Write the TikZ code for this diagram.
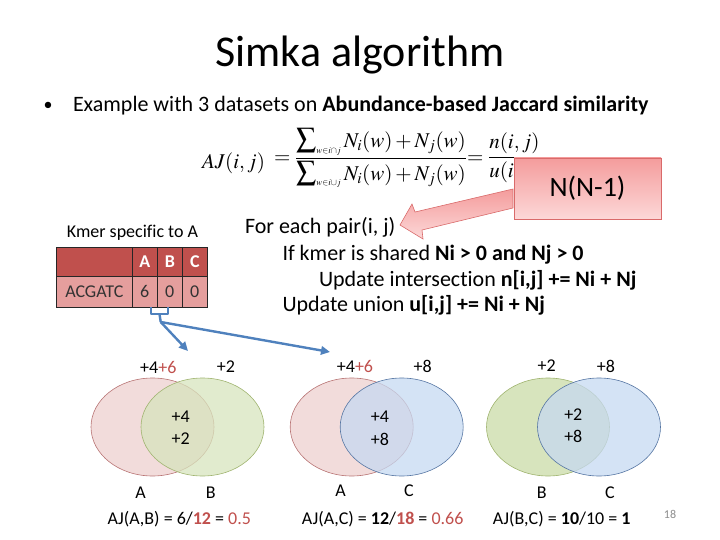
\documentclass[tikz,border=0pt]{standalone}
\usepackage[no-math]{fontspec}
\usepackage{mathptmx}
\setmainfont{Carlito}[Ligatures=NoCommon]
\usetikzlibrary{arrows.meta,shapes.geometric}
\definecolor{accred}{HTML}{C0504D}
\definecolor{tblrow}{HTML}{E59E9D}
\definecolor{pinktop}{HTML}{F49C9C}
\definecolor{pinkbot}{HTML}{FCD8D8}
\definecolor{pinkedge}{HTML}{D96A6A}
\definecolor{blueln}{HTML}{4F81BD}
\definecolor{fillA}{HTML}{F2DCDB}
\definecolor{edgeA}{HTML}{B87474}
\definecolor{fillB}{HTML}{D7E4BD}
\definecolor{edgeB}{HTML}{A0B470}
\definecolor{fillC}{HTML}{C6D9F1}
\definecolor{edgeC}{HTML}{5676A3}
\definecolor{txtgray}{HTML}{333333}
\newcommand{\bigsumop}{\mathop{\scalebox{1.35}{$\sum$}}\nolimits}
\newcommand{\tinysub}[1]{\mbox{\fontsize{9}{10}\selectfont$#1$}}
\begin{document}
\begin{tikzpicture}[x=1pt,y=-1pt,
  txt/.style={inner sep=0pt,outer sep=0pt},
  body/.style={txt,font=\fontsize{22}{26}\selectfont,anchor=base west},
  vlab/.style={txt,font=\fontsize{18}{21}\selectfont},
  cellh/.style={draw=black!85,line width=0.6pt,fill=accred,text=white,inner sep=0pt,anchor=north west,minimum height=29pt,font=\fontsize{18}{20}\selectfont\bfseries},
  cellr/.style={draw=black!85,line width=0.6pt,fill=tblrow,text=txtgray,inner sep=0pt,anchor=north west,minimum height=31pt,font=\fontsize{18}{20}\selectfont},
  venn/.style={ellipse,inner sep=0pt,minimum width=123pt,minimum height=98pt,line width=0.6pt},
  vennA/.style={venn,draw=edgeA,fill=fillA},
  vennB/.style={venn,draw=edgeB,fill=fillB,fill opacity=0.75},
  vennC/.style={venn,draw=edgeC,fill=fillC,fill opacity=0.75},
  bluearrow/.style={draw=blueln,line width=2.4pt,-{Triangle[length=9pt,width=8.5pt]}},
  blueline/.style={draw=blueln,line width=2.4pt}
]
\useasboundingbox (0,0) rectangle (720,540);

% title and bullet
\node[txt,anchor=base,font=\fontsize{44}{50}\selectfont] (title) at (360,67) {Simka algorithm};
\node[txt,anchor=base,font=\fontsize{18}{22}\selectfont] (bul) at (48,111) {•};
\node[txt,anchor=base west,font=\fontsize{22}{26}\selectfont] (ex) at (73,112) {Example with 3 datasets on \textbf{Abundance-based Jaccard similarity}};

% formula
\node[txt,anchor=base west,font=\fontsize{21}{25}\selectfont] (ajl) at (202,169) {$AJ(i,j)$};
\node[txt,anchor=west,font=\fontsize{21}{25}\selectfont] (frac) at (274,158) {$\displaystyle =\frac{\bigsumop_{\tinysub{w{\in}i{\cap}j}}N_i(w)+N_j(w)}{\bigsumop_{\tinysub{w{\in}i{\cup}j}}N_i(w)+N_j(w)}$};
\node[txt,anchor=west,font=\fontsize{21}{25}\selectfont] (frac2) at (frac.east) {$\displaystyle =\frac{n(i,j)}{u(i,j)}$};

% pink block arrow and box
\draw[draw=pinkedge,line width=0.6pt,top color=pinktop,bottom color=pinkbot] (513,189) -- (415,212) -- (412,204) -- (400,225) -- (423,239) -- (422,230) -- (513,208) -- cycle;
\node[txt,draw=pinkedge,line width=0.6pt,top color=pinktop,bottom color=pinkbot,minimum width=147pt,minimum height=61pt,anchor=north west,font=\fontsize{28}{32}\selectfont] (nbox) at (514,158) {N(N-1)};

% algorithm text
\node[body] (l1) at (245,233.5) {For each pair(i, j)};
\node[body] (l2) at (282.5,260) {If kmer is shared \textbf{Ni > 0 and Nj > 0}};
\node[body] (l3) at (319,286) {Update intersection \textbf{n[i,j] += Ni + Nj}};
\node[body] (l4) at (282.5,311.5) {Update union \textbf{u[i,j] += Ni + Nj}};

% table
\node[txt,anchor=base,font=\fontsize{18}{20}\selectfont] (kmer) at (132.5,237) {Kmer specific to A};
\node[cellh,minimum width=76pt] (h0) at (56,247) {};
\node[cellh,minimum width=25pt] (hA) at (132,247) {A};
\node[cellh,minimum width=25pt] (hB) at (157,247) {B};
\node[cellh,minimum width=25pt] (hC) at (182,247) {C};
\node[cellr,minimum width=76pt] (r0) at (56,276) {ACGATC};
\node[cellr,minimum width=25pt] (rA) at (132,276) {6};
\node[cellr,minimum width=25pt] (rB) at (157,276) {0};
\node[cellr,minimum width=25pt] (rC) at (182,276) {0};

% blue connector
\coordinate (brL) at (151,307);
\coordinate (brR) at (168,307);
\coordinate (brM) at (159.5,314);
\coordinate (split) at (160.7,322);
\coordinate (tip1) at (188,351);
\coordinate (tip2) at (330,352);
\draw[blueline,line join=round] (brL) |- (brM) -| (brR);
\draw[blueline] (brM) -- (split);
\draw[bluearrow] (split) -- (tip1);
\draw[bluearrow] (split) -- (tip2);

% Venn 1: A,B
\node[vennA] (v1a) at (152.5,427) {};
\node[vennB] (v1b) at (202.5,427) {};
\node[vlab] (v1t1) at (158.3,367) {+4{\color{accred}+6}};
\node[vlab] (v1t2) at (226,367) {+2};
\node[vlab] (v1i1) at (180.7,417) {+4};
\node[vlab] (v1i2) at (180.7,439) {+2};
\node[vlab] (v1la) at (140.7,493) {A};
\node[vlab] (v1lb) at (210.7,493) {B};
\node[vlab] (v1aj) at (179.3,519) {AJ(A,B) = 6/{\color{accred}\textbf{12}} = {\color{accred}0.5}};

% Venn 2: A,C
\node[vennA] (v2a) at (351.7,427) {};
\node[vennC] (v2c) at (401.7,427) {};
\node[vlab] (v2t1) at (355,366) {+4{\color{accred}+6}};
\node[vlab] (v2t2) at (422.7,366) {+8};
\node[vlab] (v2i1) at (380,417) {+4};
\node[vlab] (v2i2) at (380,439) {+8};
\node[vlab] (v2la) at (340.7,491) {A};
\node[vlab] (v2lc) at (409,491) {C};
\node[vlab] (v2aj) at (382.7,519) {AJ(A,C) = \textbf{12}/{\color{accred}\textbf{18}} = {\color{accred}0.66}};

% Venn 3: B,C
\node[venn,draw=edgeB,fill=fillB] (v3b) at (548,427) {};
\node[vennC] (v3c) at (599,427) {};
\node[vlab] (v3t1) at (546.7,366) {+2};
\node[vlab] (v3t2) at (606,366) {+8};
\node[vlab] (v3i1) at (573.3,415) {+2};
\node[vlab] (v3i2) at (573.3,436) {+8};
\node[vlab] (v3lb) at (541.7,493) {B};
\node[vlab] (v3lc) at (610,493) {C};
\node[vlab] (v3aj) at (561.7,519) {AJ(B,C) = \textbf{10}/10 = \textbf{1}};

% page number
\node[txt,font=\fontsize{12}{14}\selectfont,text=black!45] (pg) at (670,514) {18};
\end{tikzpicture}
\end{document}
